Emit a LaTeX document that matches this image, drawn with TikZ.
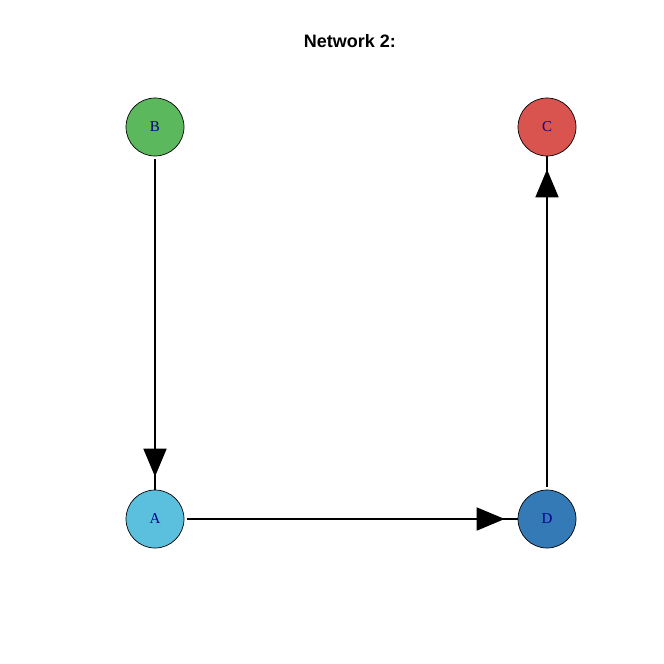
\documentclass[tikz,border=0pt]{standalone}
\usepackage{fontspec}
\setmainfont{Liberation Serif}
\newfontfamily\titlefont{Liberation Sans}
\usetikzlibrary{arrows.meta}
\definecolor{cB}{HTML}{5CB85C}
\definecolor{cC}{HTML}{D9534F}
\definecolor{cA}{HTML}{5BC0DE}
\definecolor{cD}{HTML}{337AB7}
\definecolor{lbl}{HTML}{00008B}
\tikzset{
  vtx/.style={circle, draw=black, line width=0.7pt, minimum size=58pt, inner sep=0pt, font=\fontsize{15}{15}\selectfont, text=lbl},
  edgeline/.style={line width=1.8pt, shorten <=3pt},
  edgearrow/.style={line width=1.8pt, -{Triangle[length=28pt,width=23pt]}, shorten >=13pt, shorten <=3pt}
}
\begin{document}
\begin{tikzpicture}[x=1pt,y=-1pt]
\useasboundingbox (0,0) rectangle (664,664);
\node[font=\titlefont\bfseries\fontsize{18}{18}\selectfont] (title) at (350,41) {Network 2:};
\node[vtx, fill=cB] (B) at (155,127) {B};
\node[vtx, fill=cC] (C) at (547,127) {C};
\node[vtx, fill=cA] (A) at (155,519) {A};
\node[vtx, fill=cD] (D) at (547,519) {D};
\draw[edgeline] (B) -- (A);
\draw[edgearrow] (B) -- (A);
\draw[edgeline] (A) -- (D);
\draw[edgearrow] (A) -- (D);
\draw[edgeline] (D) -- (C);
\draw[edgearrow] (D) -- (C);
\end{tikzpicture}
\end{document}
